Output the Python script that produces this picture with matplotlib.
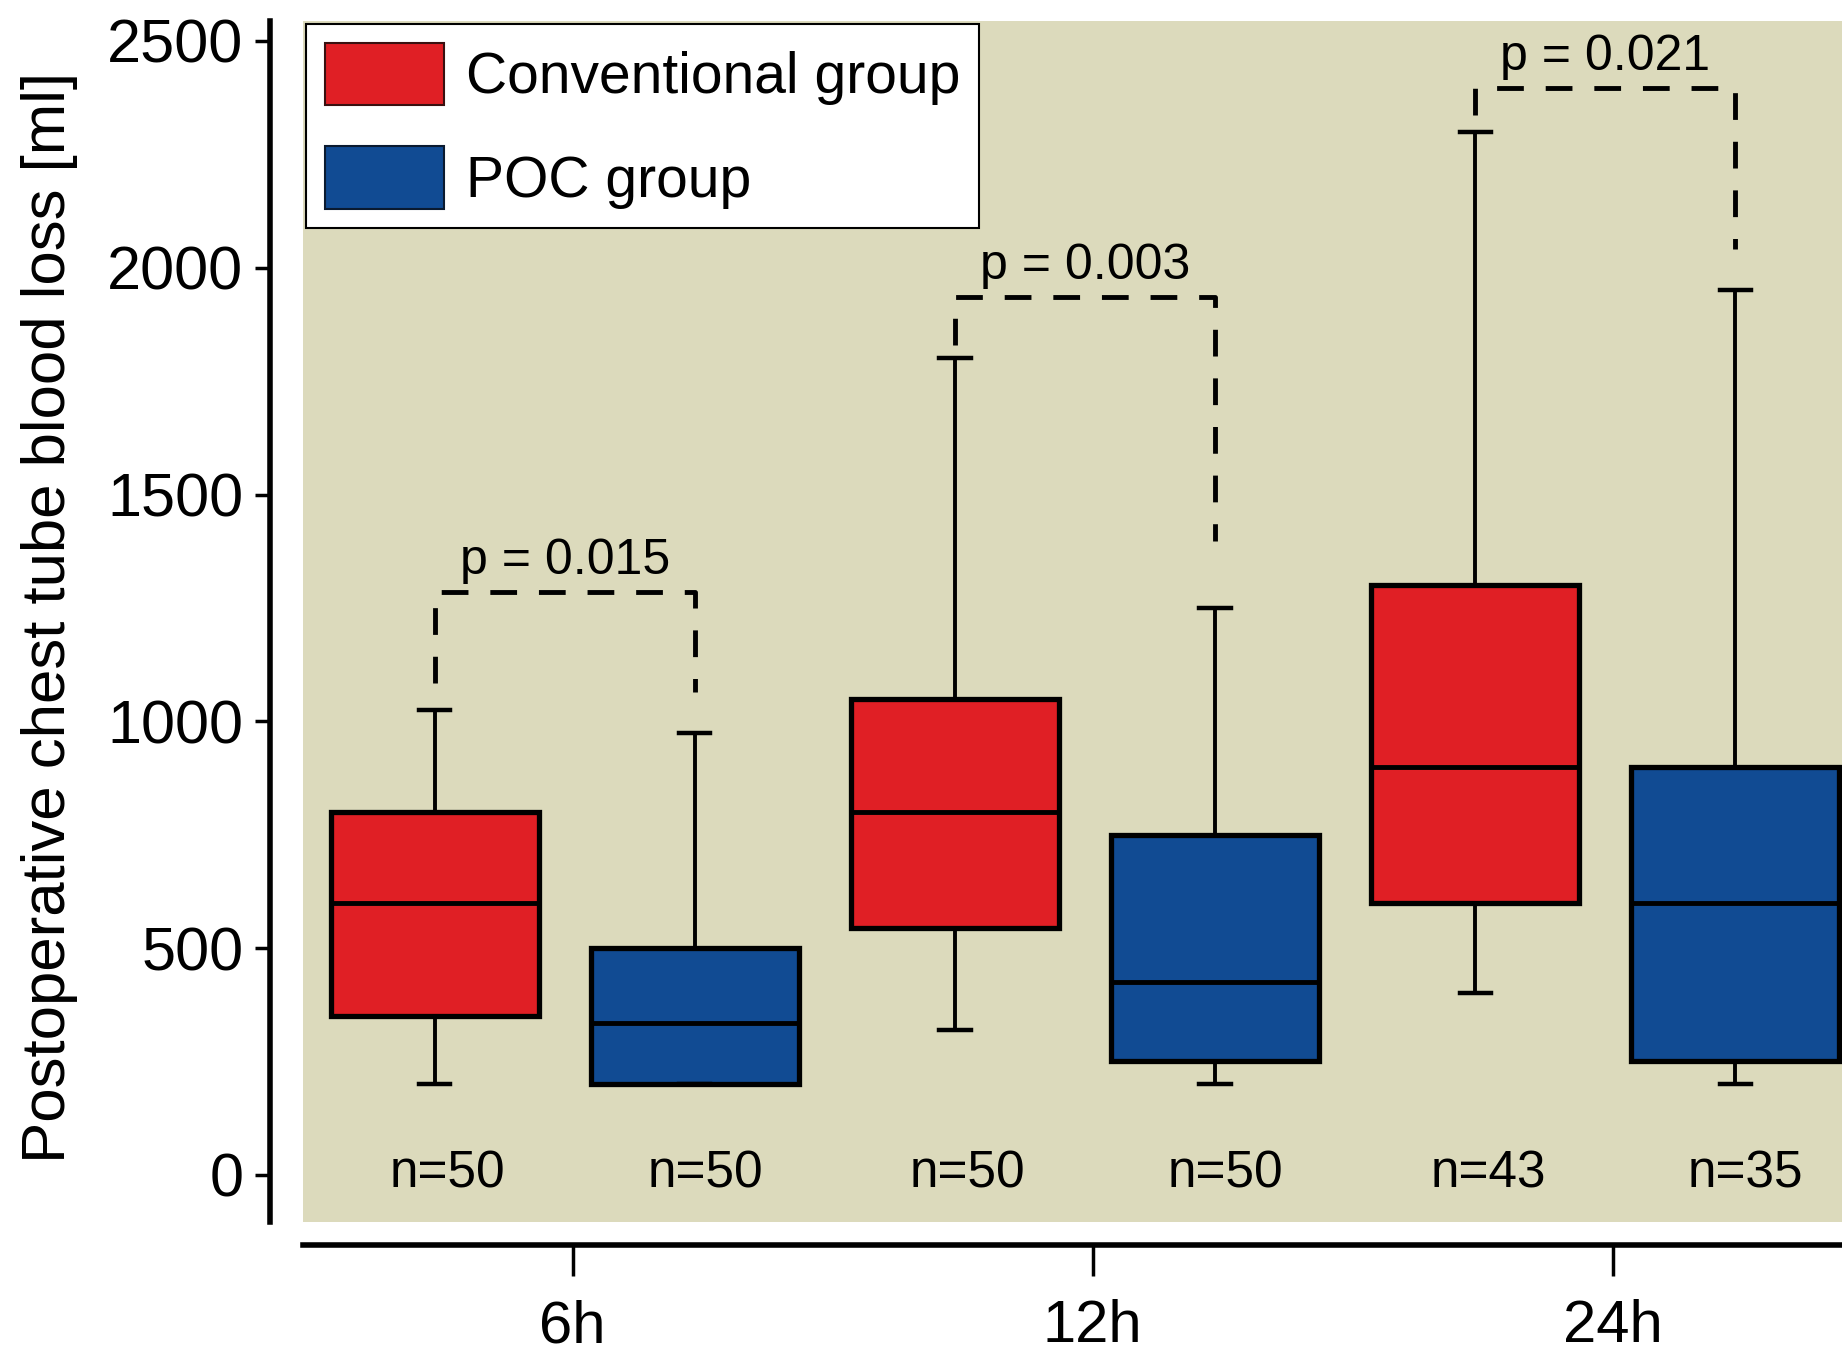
import matplotlib
matplotlib.use("Agg")
import matplotlib.pyplot as plt
from matplotlib.patches import Patch

plt.rcParams['font.family'] = ['Liberation Sans', 'DejaVu Sans']

# data
groups = ['6h', '12h', '24h']
series = ['Conventional group', 'POC group']
n_conv = [50, 50, 43]
n_poc = [50, 50, 35]

conv_lo = [200, 320, 400]
conv_q1 = [350, 545, 600]
conv_med = [600, 800, 900]
conv_q3 = [800, 1050, 1300]
conv_hi = [1025, 1800, 2300]

poc_lo = [200, 200, 200]
poc_q1 = [200, 250, 250]
poc_med = [335, 425, 600]
poc_q3 = [500, 750, 900]
poc_hi = [975, 1250, 1950]

p_values = ['0.015', '0.003', '0.021']
bracket_y = [1285, 1936, 2397]
bracket_left_end = [1085, 1830, 2337]
bracket_right_end = [1065, 1397, 2042]

red = '#e01f25'
blue = '#114b93'
beige = '#dcdabc'

W, H = 1842, 1357
fig = plt.figure(figsize=(W / 100, H / 100), dpi=100)
ax = fig.add_axes([303 / W, 1 - 1222 / H, 1 - 303 / W, (1222 - 21) / H])
ax.set_facecolor(beige)


def make_stats(lo, q1, med, q3, hi):
    return [dict(whislo=a, q1=b, med=c, q3=d, whishi=e, fliers=[])
            for a, b, c, d, e in zip(lo, q1, med, q3, hi)]


pos_conv = [2 * i + 1 for i in range(len(groups))]
pos_poc = [2 * i + 2 for i in range(len(groups))]

common = dict(widths=0.8, patch_artist=True, showfliers=False,
              medianprops=dict(color='k', linewidth=3.5),
              whiskerprops=dict(color='k', linewidth=2.8),
              capprops=dict(color='k', linewidth=3.2), capwidths=0.12)

ax.bxp(make_stats(conv_lo, conv_q1, conv_med, conv_q3, conv_hi), positions=pos_conv,
       boxprops=dict(facecolor=red, edgecolor='k', linewidth=3.8), **common)
ax.bxp(make_stats(poc_lo, poc_q1, poc_med, poc_q3, poc_hi), positions=pos_poc,
       boxprops=dict(facecolor=blue, edgecolor='k', linewidth=3.8), **common)

# n labels (sit a little right of the box centres in the original)
for p, n in zip(pos_conv, n_conv):
    ax.text(p + 0.05, 2, f'n={n}', ha='center', va='center', fontsize=37)
for p, n in zip(pos_poc, n_poc):
    ax.text(p + 0.04, 2, f'n={n}', ha='center', va='center', fontsize=37)

# p-value brackets
for x1, x2, by, le, re, pv in zip(pos_conv, pos_poc, bracket_y,
                                  bracket_left_end, bracket_right_end, p_values):
    ax.plot([x1, x1, x2, x2], [le, by, by, re], color='k', lw=3.5,
            linestyle=(0, (5.5, 4.5)))
    ax.text((x1 + x2) / 2, by + 40, f'p = {pv}', ha='center', va='baseline', fontsize=36)

ax.set_xlim(0.494, 6.41)
ax.set_ylim(-104, 2544)

ax.spines['top'].set_visible(False)
ax.spines['right'].set_visible(False)
ax.spines['left'].set_position(('outward', 24))
ax.spines['bottom'].set_position(('outward', 16.5))
ax.spines['left'].set_linewidth(4)
ax.spines['bottom'].set_linewidth(4)

ax.set_yticks(range(0, 2501, 500))
ax.set_xticks([(a + b) / 2 + 0.03 for a, b in zip(pos_conv, pos_poc)], groups)
ax.tick_params(axis='y', direction='out', length=11, width=2.5, pad=8, labelsize=44)
ax.tick_params(axis='x', direction='out', length=22, width=2.5, pad=17, labelsize=43)

ax.set_ylabel('Postoperative chest tube blood loss [ml]', fontsize=44.5)
ax.yaxis.set_label_coords(-0.146, 0.503)

handles = [Patch(facecolor=red, edgecolor='#3a1010', linewidth=1.5),
           Patch(facecolor=blue, edgecolor='#0a1a30', linewidth=1.5)]
leg = ax.legend(handles, series, loc='upper left', fontsize=41, fancybox=False,
                edgecolor='k', framealpha=1, borderaxespad=0.05, borderpad=0.33,
                handlelength=2.1, handleheight=1.32, handletextpad=0.38,
                labelspacing=0.72)
leg.get_frame().set_linewidth(1.5)

fig.savefig('out.png', dpi=100)
